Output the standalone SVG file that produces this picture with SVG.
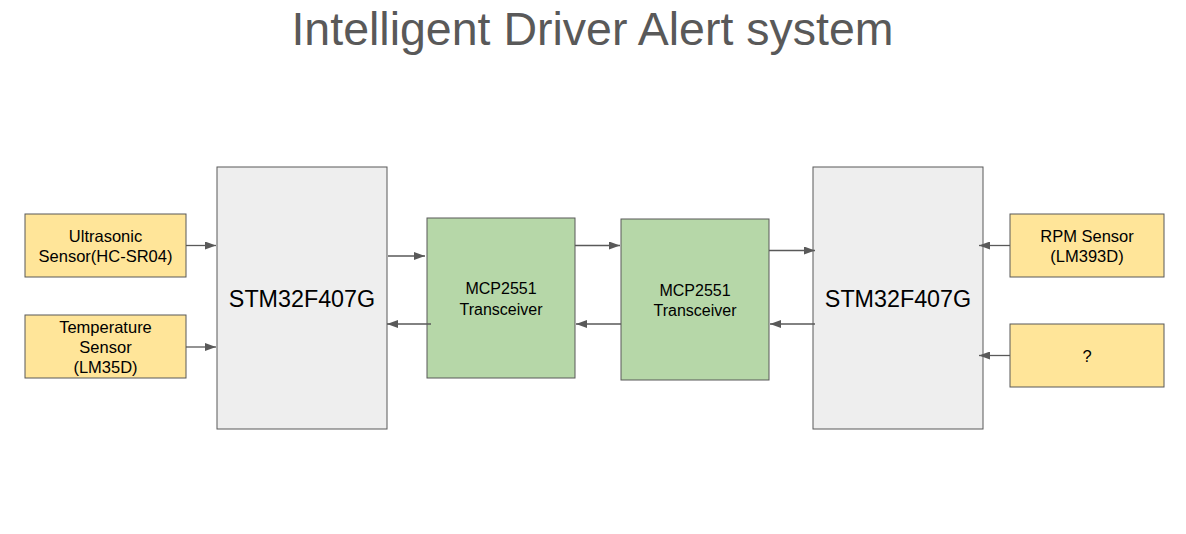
<svg xmlns="http://www.w3.org/2000/svg" width="1186" height="534" viewBox="0 0 1186 534">
<style>
  .t { font-family: "Liberation Sans", Arial, sans-serif; fill: #000; text-anchor: middle; }
  .s { font-size: 16.5px; }
  .m { font-size: 16px; }
  .b { font-size: 23.3px; }
  .sensor { fill: #ffe599; stroke: #595959; stroke-width: 1; }
  .mcu { fill: #eeeeee; stroke: #595959; stroke-width: 1; }
  .can { fill: #b6d7a8; stroke: #595959; stroke-width: 1; }
  .c { stroke: #595959; stroke-width: 1.3; fill: none; marker-end: url(#ah); }
</style>
<defs>
  <marker id="ah" viewBox="0 0 11 8" refX="11" refY="4" markerWidth="11" markerHeight="8" markerUnits="userSpaceOnUse" orient="auto">
    <path d="M0,0 L11,4 L0,8 z" fill="#595959"/>
  </marker>
</defs>
<rect width="1186" height="534" fill="#ffffff"/>
<text x="592.5" y="45" font-family="Liberation Sans, Arial, sans-serif" font-size="46.5" fill="#595959" text-anchor="middle">Intelligent Driver Alert system</text>

<g id="ultrasonic">
  <rect class="sensor" x="25" y="214" width="161" height="63"/>
  <text class="t s" x="105.5" y="242">Ultrasonic</text>
  <text class="t s" x="105.5" y="262">Sensor(HC-SR04)</text>
</g>
<g id="temperature">
  <rect class="sensor" x="25" y="315" width="161" height="63"/>
  <text class="t s" x="105.5" y="333">Temperature</text>
  <text class="t s" x="105.5" y="353">Sensor</text>
  <text class="t s" x="105.5" y="373">(LM35D)</text>
</g>
<g id="stm1">
  <rect class="mcu" x="217" y="167" width="170" height="262"/>
  <text class="t b" x="302" y="307">STM32F407G</text>
</g>
<g id="mcp1">
  <rect class="can" x="427" y="218" width="148" height="160"/>
  <text class="t m" x="501" y="294">MCP2551</text>
  <text class="t m" x="501" y="315">Transceiver</text>
</g>
<g id="mcp2">
  <rect class="can" x="621" y="219" width="148" height="161"/>
  <text class="t m" x="695" y="296">MCP2551</text>
  <text class="t m" x="695" y="316">Transceiver</text>
</g>
<g id="stm2">
  <rect class="mcu" x="813" y="167" width="170" height="262"/>
  <text class="t b" x="898" y="307">STM32F407G</text>
</g>
<g id="rpm">
  <rect class="sensor" x="1010" y="214" width="154" height="63"/>
  <text class="t s" x="1087" y="242">RPM Sensor</text>
  <text class="t s" x="1087" y="262">(LM393D)</text>
</g>
<g id="unknown">
  <rect class="sensor" x="1010" y="324" width="154" height="63"/>
  <text class="t s" x="1087" y="362">?</text>
</g>

<g id="connectors">
  <line class="c" x1="186" y1="245.5" x2="216" y2="245.5"/>
  <line class="c" x1="186" y1="347" x2="216" y2="347"/>
  <line class="c" x1="388" y1="256" x2="425" y2="256"/>
  <line class="c" x1="431" y1="324" x2="387" y2="324"/>
  <line class="c" x1="575" y1="245.5" x2="620" y2="245.5"/>
  <line class="c" x1="621" y1="324" x2="576" y2="324"/>
  <line class="c" x1="769" y1="250.5" x2="815" y2="250.5"/>
  <line class="c" x1="815" y1="324" x2="770" y2="324"/>
  <line class="c" x1="1010" y1="245.5" x2="979" y2="245.5"/>
  <line class="c" x1="1010" y1="355.5" x2="979" y2="355.5"/>
</g>
</svg>
